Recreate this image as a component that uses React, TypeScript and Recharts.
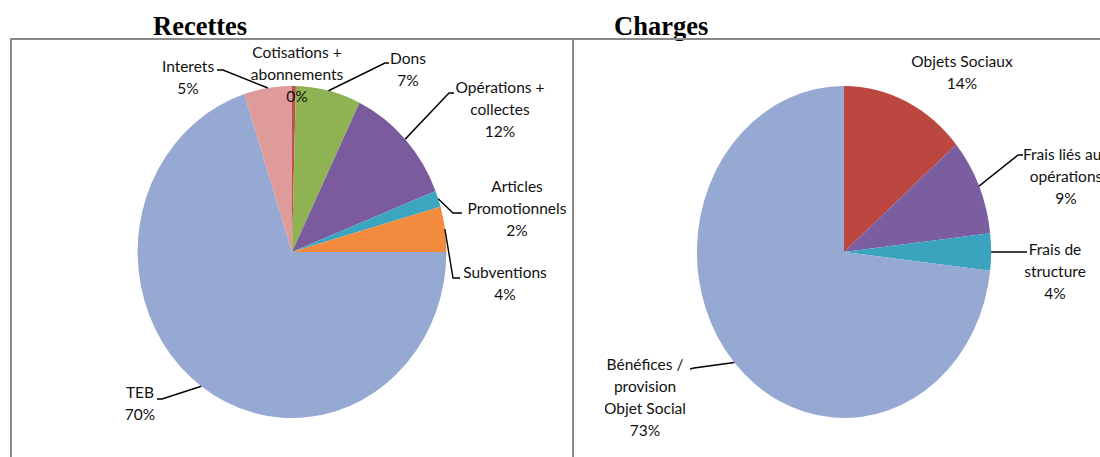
import { PieChart, Pie, Cell } from 'recharts';

// Recettes
const recettesNames = [
  'Cotisations +\nabonnements',
  'Dons',
  'Opérations +\ncollectes',
  'Articles\nPromotionnels',
  'Subventions',
  'TEB',
  'Interets',
];
const recettesValues = [0.4, 6.8, 11.8, 1.6, 4.4, 70, 5];

// Charges
const chargesNames = [
  'Objets Sociaux',
  'Frais liés aux\nopérations',
  'Frais de\nstructure',
  'Bénéfices /\nprovision\nObjet Social',
];
const chargesValues = [13.8, 9.4, 3.6, 73.2];

const recettesColors = ['#C0504D', '#8FB352', '#7A5C9E', '#3CA6C0', '#F38B3E', '#95A9D3', '#DE9B9A'];
const chargesColors = ['#BC4640', '#7B5EA0', '#3AA4BE', '#95A9D3'];

const recettesData = recettesNames.map((name, i) => ({ name, value: recettesValues[i] }));
const chargesData = chargesNames.map((name, i) => ({ name, value: chargesValues[i] }));

// label placement, offsets from the pie centre in page pixels
type Spot = { dx: number; dy: number; elbow?: [number, number]; end?: [number, number] };

const recettesSpots: Spot[] = [
  { dx: 5, dy: -199 },
  { dx: 116, dy: -193, elbow: [93, -189], end: [97, -189] },
  { dx: 208, dy: -164, elbow: [157, -159], end: [162, -159] },
  { dx: 225, dy: -65, elbow: [161, -39], end: [170, -39] },
  { dx: 213, dy: 21, elbow: [161, 26], end: [168, 26] },
  { dx: -152, dy: 141, elbow: [-130, 147], end: [-135, 147] },
  { dx: -104, dy: -185, elbow: [-69, -182], end: [-75, -182] },
];

const chargesSpots: Spot[] = [
  { dx: 118, dy: -190 },
  { dx: 222, dy: -97, elbow: [174, -97], end: [179, -97] },
  { dx: 211, dy: -2, elbow: [183, 0], end: [183, 0] },
  { dx: -199, dy: 113, elbow: [-150, 116], end: [-154, 117] },
];

const RAD = Math.PI / 180;
const LINE_H = 22;
const FONT = 15.5;

if (typeof document !== 'undefined') document.body.style.margin = '0';

const makeLabel = (spots: Spot[], sx: number) => (props: any) => {
  const { cx, cy, midAngle, outerRadius, percent, index } = props;
  const name: string = props.payload?.name ?? props.name;
  const spot = spots[index];
  const lines = [...name.split('\n'), `${Math.round(percent * 100)}%`];
  const px = (dx: number) => cx + dx / sx;
  const ex = cx + outerRadius * Math.cos(-midAngle * RAD);
  const ey = cy + outerRadius * Math.sin(-midAngle * RAD);
  return (
    <g>
      {spot.elbow && spot.end && (
        <polyline
          points={`${ex},${ey} ${px(spot.elbow[0])},${cy + spot.elbow[1]} ${px(spot.end[0])},${cy + spot.end[1]}`}
          fill="none"
          stroke="#000"
          strokeWidth={1.5}
        />
      )}
      <text
        transform={`translate(${px(spot.dx)} ${cy + spot.dy + 5}) scale(${1 / sx} 1)`}
        textAnchor="middle"
        fontFamily="Lato, 'Open Sans', sans-serif"
        fontSize={FONT}
        fill="#111"
      >
        {lines.map((t, i) => (
          <tspan key={i} x={0} y={i * LINE_H}>
            {t}
          </tspan>
        ))}
      </text>
    </g>
  );
};

const LEFT_SX = 0.93;
const RIGHT_SX = 0.886;

const titleStyle: React.CSSProperties = {
  position: 'absolute',
  top: 13,
  fontFamily: "'Liberation Serif', 'Times New Roman', serif",
  fontWeight: 'bold',
  fontSize: 26.5,
  lineHeight: '26.5px',
  color: '#000',
};

export default function App() {
  return (
    <div
      style={{
        position: 'relative',
        width: 1100,
        height: 457,
        overflow: 'hidden',
        background: '#fff',
      }}
    >
      <div style={{ ...titleStyle, left: 153 }}>Recettes</div>
      <div style={{ ...titleStyle, left: 614 }}>Charges</div>
      <div
        style={{
          position: 'absolute',
          left: 10,
          top: 38,
          width: 1200,
          height: 500,
          borderTop: '2px solid #8a8a8a',
          borderLeft: '2px solid #8a8a8a',
        }}
      />
      <div
        style={{
          position: 'absolute',
          left: 572,
          top: 38,
          width: 2,
          height: 500,
          background: '#8a8a8a',
        }}
      />
      <div
        style={{
          position: 'absolute',
          left: 0,
          top: 0,
          transform: `scaleX(${LEFT_SX})`,
          transformOrigin: '292px 0',
        }}
      >
        <PieChart width={620} height={457} margin={{ top: 0, right: 0, bottom: 0, left: 0 }}>
          <Pie
            data={recettesData}
            dataKey="value"
            nameKey="name"
            cx={292}
            cy={252}
            outerRadius={166}
            startAngle={90}
            endAngle={-270}
            stroke="none"
            isAnimationActive={false}
            labelLine={false}
            label={makeLabel(recettesSpots, LEFT_SX)}
          >
            {recettesData.map((d, i) => (
              <Cell key={d.name} fill={recettesColors[i]} />
            ))}
          </Pie>
        </PieChart>
      </div>
      <div
        style={{
          position: 'absolute',
          left: 574,
          top: 0,
          transform: `scaleX(${RIGHT_SX})`,
          transformOrigin: '270px 0',
        }}
      >
        <PieChart width={640} height={457} margin={{ top: 0, right: 0, bottom: 0, left: 0 }}>
          <Pie
            data={chargesData}
            dataKey="value"
            nameKey="name"
            cx={270}
            cy={252}
            outerRadius={166}
            startAngle={90}
            endAngle={-270}
            stroke="none"
            isAnimationActive={false}
            labelLine={false}
            label={makeLabel(chargesSpots, RIGHT_SX)}
          >
            {chargesData.map((d, i) => (
              <Cell key={d.name} fill={chargesColors[i]} />
            ))}
          </Pie>
        </PieChart>
      </div>
    </div>
  );
}
